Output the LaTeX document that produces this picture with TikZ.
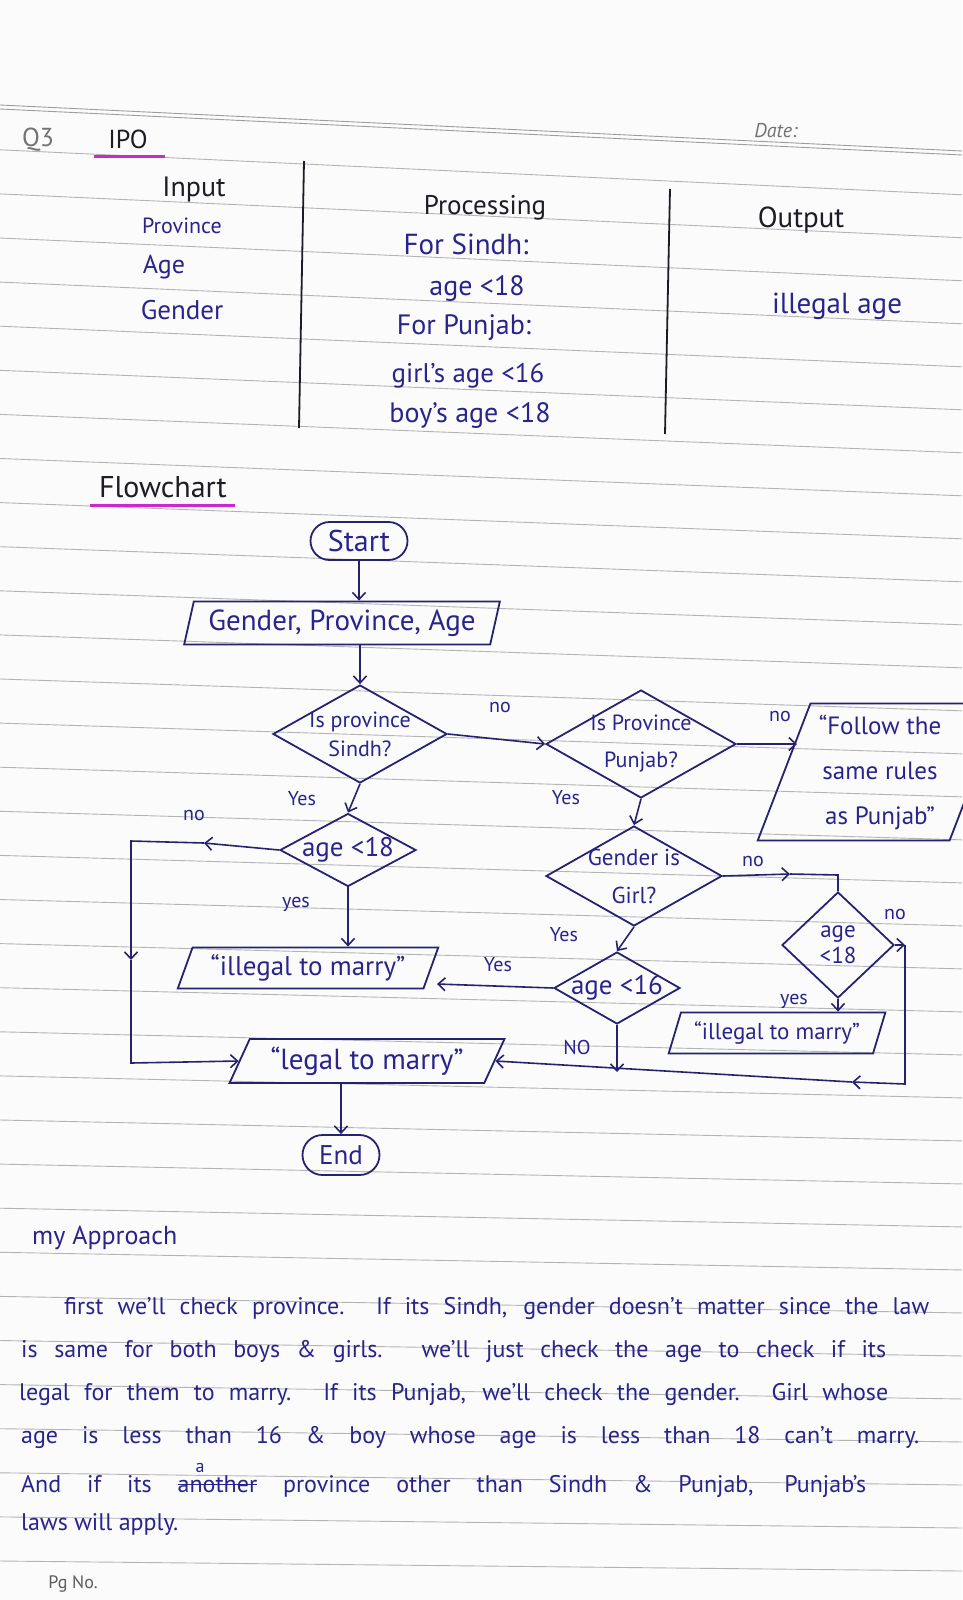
\documentclass[tikz,border=0pt]{standalone}
\usepackage{fontspec}
\setmainfont{PT Sans}
\usetikzlibrary{shapes.geometric, shapes.misc, arrows.meta}

\definecolor{inkblue}{RGB}{40,36,140}
\definecolor{inkblack}{RGB}{28,28,36}
\definecolor{pen}{RGB}{38,34,112}
\definecolor{hilite}{RGB}{205,40,205}
\definecolor{pencil}{RGB}{115,115,115}
\definecolor{rulegray}{RGB}{180,180,180}
\definecolor{paper}{RGB}{251,251,251}

\newcommand{\hw}[1]{\fontsize{#1}{#1}\selectfont}
\newcommand{\nowidth}[1]{\makebox[0pt]{#1}}
\newcommand{\crossout}[1]{\setbox0\hbox{#1}\rlap{\rule[0.28em]{\wd0}{1.2pt}}#1}

\begin{document}
\begin{tikzpicture}[x=1pt, y=-1pt,
    every node/.style={text=inkblue, inner sep=1pt},
    decision/.style={diamond, draw=pen, line width=1.8pt, inner sep=0pt, align=center},
    io/.style={trapezium, trapezium left angle=65, trapezium right angle=115,
        trapezium stretches=true, draw=pen, line width=1.8pt, inner sep=0pt},
    term/.style={rounded rectangle, draw=pen, line width=1.8pt, inner sep=0pt},
    flow/.style={draw=pen, line width=1.6pt, -{Straight Barb[length=7pt, width=13pt]}},
    wire/.style={draw=pen, line width=1.6pt},
    lbl/.style={font=\hw{20}},
    note/.style={anchor=west, font=\hw{24}},
    ruling/.style={draw=rulegray, line width=0.9pt}]

    \useasboundingbox (0,0) rectangle (962,1600);
    \fill[paper] (0,0) rectangle (962,1600);

    % ruled page
    \draw[ruling, draw=pencil!70] (0,105) -- (962,151);
    \draw[ruling, draw=pencil!70] (0,109) -- (962,155);
    \foreach \i in {0,...,32} {
        \pgfmathsetmacro\yl{1561-44.1*\i}
        \pgfmathsetmacro\dy{10+1.092*\i}
        \draw[ruling] (0,\yl) -- (962,\yl+\dy);
    }

    % heading
    \node[text=pencil, font=\hw{26}] (qno) at (38,140) {Q3};
    \node[text=inkblack, font=\hw{26}] (ipo) at (128,139) {IPO};
    \draw[hilite, line width=3pt] (94,156) -- (165,156);
    \node[text=pencil, font=\hw{20}\itshape] (date) at (776,131) {Date:};

    % IPO table
    \draw[inkblack, line width=1.8pt] (304,161) -- (299,428);
    \draw[inkblack, line width=1.8pt] (670,189) -- (665,434);

    \node[text=inkblack, font=\hw{28}] (inhead) at (194,189) {Input};
    \node[font=\hw{22}] (inprov) at (182,226) {Province};
    \node[font=\hw{26}] (inage) at (164,267) {Age};
    \node[font=\hw{27}] (ingend) at (182,310) {Gender};

    \node[text=inkblack, font=\hw{27}] (prochead) at (485,208) {Processing};
    \node[font=\hw{29}] (procs) at (466,244) {For Sindh:};
    \node[font=\hw{28}] (procsa) at (477,288) {age <18};
    \node[font=\hw{28}] (procp) at (464,328) {For Punjab:};
    \node[font=\hw{27}] (procpg) at (468,376) {girl's age <16};
    \node[font=\hw{28}] (procpb) at (470,415) {boy's age <18};

    \node[text=inkblack, font=\hw{29}] (outhead) at (801,220) {Output};
    \node[font=\hw{29}] (outval) at (837,306) {illegal age};

    % flowchart
    \node[text=inkblack, font=\hw{30}] (fctitle) at (163,487) {Flowchart};
    \draw[hilite, line width=3pt] (90,505) -- (235,505);

    \node[term, minimum width=97, minimum height=38, font=\hw{30}] (start) at (359,541) {\nowidth{Start}};
    \node[io, trapezium left angle=72, trapezium right angle=108, minimum width=316, minimum height=43,
        font=\hw{29}] (input) at (342,623) {Gender, Province, Age};
    \node[decision, minimum width=174, minimum height=98, font=\fontsize{22}{29}\selectfont]
        (sindh) at (360,734) {\nowidth{Is province}\\\nowidth{Sindh?}};
    \node[decision, minimum width=190, minimum height=108, font=\fontsize{22}{37}\selectfont]
        (punjab) at (641,744) {\nowidth{Is Province}\\\nowidth{Punjab?}};
    \node[io, trapezium left angle=68, trapezium right angle=112, minimum width=245, minimum height=137,
        align=center, font=\fontsize{25}{45}\selectfont] (follow) at (880,772)
        {“Follow the\\same rules\\as Punjab”};
    \node[decision, minimum width=136, minimum height=73, font=\hw{27}] (a18l) at (348,850) {\nowidth{age <18}};
    \node[decision, minimum width=176, minimum height=100, font=\fontsize{23}{38}\selectfont]
        (gender) at (634,876) {\nowidth{Gender is}\\\nowidth{Girl?}};
    \node[decision, minimum width=112, minimum height=106, font=\fontsize{23}{26}\selectfont]
        (a18r) at (838,945) {\nowidth{age}\\\nowidth{<18}};
    \node[decision, minimum width=126, minimum height=72, font=\hw{27}] (a16) at (617,988) {\nowidth{age <16}};
    \node[io, minimum width=261, minimum height=41, font=\hw{27}] (illeg1) at (308,968) {“illegal to marry”};
    \node[io, minimum width=217, minimum height=41, font=\hw{23}] (illeg2) at (777,1033) {“illegal to marry”};
    \node[io, trapezium left angle=60, trapezium right angle=120, minimum width=275, minimum height=44,
        font=\hw{29}] (legal) at (367,1061) {“legal to marry”};
    \node[term, minimum width=77, minimum height=40, font=\hw{27}] (end) at (341,1155) {\nowidth{End}};

    % bends
    \coordinate (lnoA) at (204,843);
    \coordinate (loopTL) at (131,841);
    \coordinate (loopML) at (131,960);
    \coordinate (loopBL) at (131,1063);
    \coordinate (ilin) at (437,984);
    \coordinate (gmid) at (790,874);
    \coordinate (gjoin) at (838,875);
    \coordinate (fin) at (797,744);
    \coordinate (loopTR) at (905,945);
    \coordinate (loopBR) at (905,1084);
    \coordinate (loopMid) at (852,1082);
    \coordinate (nojoin) at (609,1072);

    % main column
    \draw[flow] (start.south) -- (start.south |- input.north);
    \draw[flow] (sindh.north |- input.south) -- (sindh.north);
    \draw[flow] (sindh.east) -- (punjab.west);
    \draw[flow] (sindh.south) -- (a18l.north);
    \draw[flow] (a18l.south) -- (a18l.south |- illeg1.north);
    \draw[flow] (a16.west) -- (ilin);
    \draw[flow] (end.north |- legal.south) -- (end.north);

    % left loop
    \draw[flow] (a18l.west) -- (lnoA);
    \draw[flow] (lnoA) -- (loopTL) -- (loopML);
    \draw[flow] (loopML) -- (loopBL) -- (legal.west);

    % Punjab branch
    \draw[flow] (punjab.east) -- (fin);
    \draw[flow] (punjab.south) -- (gender.north);
    \draw[flow] (gender.east) -- (gmid);
    \draw[wire] (gmid) -- (gjoin) -- (a18r.north);
    \draw[flow] (gender.south) -- (a16.north);
    \draw[flow] (a16.south) -- (a16.south |- nojoin);
    \draw[flow] (a18r.south) -- (a18r.south |- illeg2.north);

    % right loop
    \draw[flow] (a18r.east) -- (loopTR);
    \draw[flow] (loopTR) -- (loopBR) -- (loopMid);
    \draw[flow] (loopMid) -- (legal.east);

    % branch labels
    \node[lbl] at (500,707) {no};
    \node[lbl] at (780,716) {no};
    \node[lbl] at (302,799) {Yes};
    \node[lbl] at (194,815) {no};
    \node[lbl] at (566,798) {Yes};
    \node[lbl] at (753,861) {no};
    \node[lbl] at (296,904) {yes};
    \node[lbl] at (564,935) {Yes};
    \node[lbl] at (895,914) {no};
    \node[lbl] at (498,965) {Yes};
    \node[lbl] at (794,1001) {yes};
    \node[lbl] at (577,1047) {NO};

    % approach notes
    \node[note, font=\hw{26}] (appr) at (31,1238) {my Approach};
    \node[note] (note1) at (63,1308)
        {\makebox[865pt][s]{first we'll check province. If its Sindh, gender doesn't matter since the law}};
    \node[note] (note2) at (20,1351)
        {\makebox[865pt][s]{is same for both boys \& girls. we'll just check the age to check if its}};
    \node[note] (note3) at (18,1394)
        {\makebox[869pt][s]{legal for them to marry. If its Punjab, we'll check the gender. Girl whose}};
    \node[note] (note4) at (20,1437)
        {\makebox[898pt][s]{age is less than 16 \& boy whose age is less than 18 can't marry.}};
    \node[note] (note5) at (20,1480)
        {\makebox[845pt][s]{And if its \makebox[0pt][l]{\raisebox{20pt}{\hspace{18pt}\hw{18}a}}\crossout{another} province other than Sindh \& Punjab, Punjab's}};
    \node[note] (note6) at (20,1524) {laws will apply.};

    \node[text=pencil!80!black, font=\hw{18}] (pgno) at (73,1584) {Pg No.};
\end{tikzpicture}
\end{document}
